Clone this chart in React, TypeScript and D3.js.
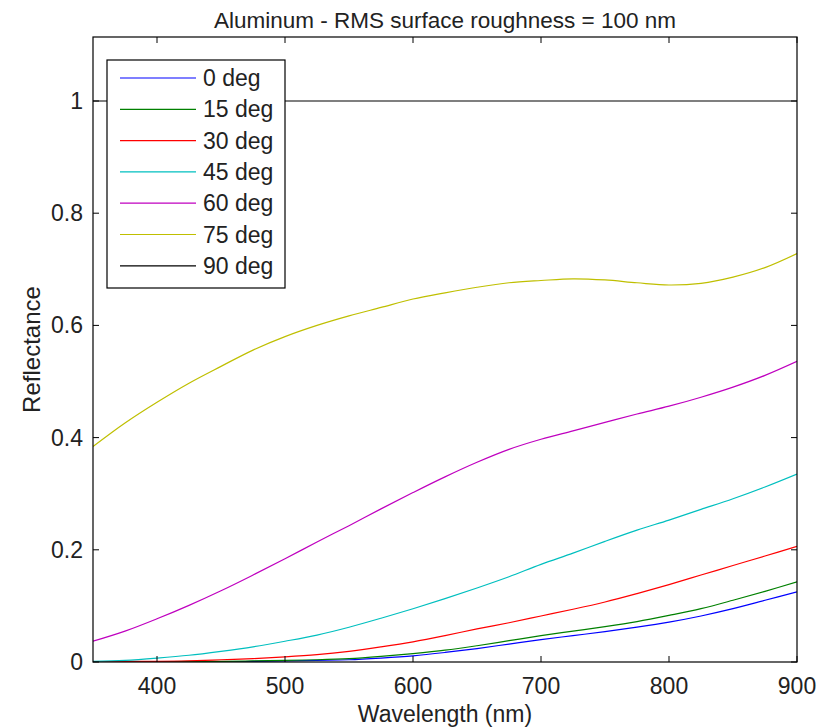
import React from "react";
import * as d3 from "d3";

const wavelengths = [350, 375, 400, 425, 450, 475, 500, 525, 550, 575, 600, 625, 650, 675, 700, 725, 750, 775, 800, 825, 850, 875, 900];

const r0 = [0, 0, 0, 0, 0, 0.001, 0.002, 0.003, 0.004, 0.007, 0.011, 0.017, 0.024, 0.032, 0.04, 0.047, 0.054, 0.062, 0.071, 0.082, 0.095, 0.11, 0.125];
const r15 = [0, 0, 0, 0.001, 0.001, 0.002, 0.003, 0.004, 0.006, 0.01, 0.015, 0.021, 0.029, 0.038, 0.047, 0.055, 0.063, 0.072, 0.083, 0.095, 0.11, 0.126, 0.143];
const r30 = [0, 0.001, 0.001, 0.002, 0.004, 0.006, 0.009, 0.013, 0.019, 0.027, 0.036, 0.047, 0.059, 0.07, 0.082, 0.094, 0.107, 0.122, 0.138, 0.155, 0.172, 0.189, 0.206];
const r45 = [0.001, 0.003, 0.007, 0.012, 0.019, 0.027, 0.037, 0.048, 0.062, 0.078, 0.095, 0.113, 0.132, 0.152, 0.174, 0.194, 0.215, 0.235, 0.253, 0.272, 0.291, 0.312, 0.335];
const r60 = [0.037, 0.055, 0.077, 0.101, 0.127, 0.155, 0.184, 0.214, 0.243, 0.273, 0.302, 0.33, 0.356, 0.379, 0.397, 0.412, 0.427, 0.442, 0.456, 0.472, 0.49, 0.511, 0.536];
const r75 = [0.384, 0.426, 0.463, 0.497, 0.527, 0.556, 0.58, 0.6, 0.617, 0.632, 0.647, 0.658, 0.668, 0.676, 0.68, 0.683, 0.681, 0.676, 0.672, 0.675, 0.686, 0.703, 0.728];
const r90 = [1, 1, 1, 1, 1, 1, 1, 1, 1, 1, 1, 1, 1, 1, 1, 1, 1, 1, 1, 1, 1, 1, 1];

const seriesLabels = ["0 deg", "15 deg", "30 deg", "45 deg", "60 deg", "75 deg", "90 deg"];
const seriesValues = [r0, r15, r30, r45, r60, r75, r90];
const seriesColors = ["#0000ff", "#008000", "#ff0000", "#00bfbf", "#bf00bf", "#bfbf00", "#000000"];

const xTicks = [400, 500, 600, 700, 800, 900];
const yTicks = [0, 0.2, 0.4, 0.6, 0.8, 1];
const yTickLabels = ["0", "0.2", "0.4", "0.6", "0.8", "1"];

const W = 825;
const H = 727;
const left = 93;
const right = 797;
const top = 37;
const bottom = 662;
const FONT = "'Liberation Sans', Arial, Helvetica, sans-serif";
const FS = 23;

export default function App() {
  const x = d3.scaleLinear().domain([350, 900]).range([left, right]);
  const y = d3.scaleLinear().domain([0, 1]).range([bottom, 101]);

  const line = d3
    .line<number>()
    .x((_, i) => x(wavelengths[i]))
    .y((d) => y(d))
    .curve(d3.curveCatmullRom.alpha(0.5));

  const tick = 6;
  const legendX = 107;
  const legendY = 60;
  const legendW = 178;
  const legendH = 228;
  const rowY = (i: number) => 78 + i * 31.3;

  return (
    <svg
      width={W}
      height={H}
      style={{ position: "absolute", left: 0, top: 0, background: "#fff" }}
      fontFamily={FONT}
    >
      <rect x={0} y={0} width={W} height={H} fill="#fff" />
      <defs>
        <clipPath id="plotClip">
          <rect x={left} y={top} width={right - left} height={bottom - top} />
        </clipPath>
      </defs>

      {/* series */}
      <g clipPath="url(#plotClip)">
        {seriesValues.map((vals, i) => (
          <path key={i} d={line(vals) || ""} fill="none" stroke={seriesColors[i]} strokeWidth={1.2} />
        ))}
      </g>

      {/* axes box */}
      <rect x={left} y={top} width={right - left} height={bottom - top} fill="none" stroke="#000" strokeWidth={1.2} />

      {/* x ticks */}
      {xTicks.map((t) => (
        <g key={"x" + t}>
          <line x1={x(t)} x2={x(t)} y1={bottom} y2={bottom - tick} stroke="#000" />
          <line x1={x(t)} x2={x(t)} y1={top} y2={top + tick} stroke="#000" />
          <text x={x(t)} y={bottom + 32} textAnchor="middle" fontSize={FS} fill="#222">
            {t}
          </text>
        </g>
      ))}

      {/* y ticks */}
      {yTicks.map((t, i) => (
        <g key={"y" + t}>
          <line x1={left} x2={left + tick} y1={y(t)} y2={y(t)} stroke="#000" />
          <line x1={right} x2={right - tick} y1={y(t)} y2={y(t)} stroke="#000" />
          <text x={left - 10} y={y(t) + 8} textAnchor="end" fontSize={FS} fill="#222">
            {yTickLabels[i]}
          </text>
        </g>
      ))}

      {/* title and axis labels */}
      <text x={445} y={28} textAnchor="middle" fontSize={22.5} fill="#222">
        Aluminum - RMS surface roughness = 100 nm
      </text>
      <text x={445} y={722} textAnchor="middle" fontSize={FS} fill="#222">
        Wavelength (nm)
      </text>
      <text
        transform={`translate(40, ${(top + bottom) / 2}) rotate(-90)`}
        textAnchor="middle"
        fontSize={FS + 1}
        fill="#222"
      >
        Reflectance
      </text>

      {/* legend */}
      <rect x={legendX} y={legendY} width={legendW} height={legendH} fill="#fff" stroke="#000" strokeWidth={1.2} />
      {seriesLabels.map((lab, i) => (
        <g key={lab}>
          <line x1={120} x2={196} y1={rowY(i)} y2={rowY(i)} stroke={seriesColors[i]} strokeWidth={1.2} />
          <text x={203} y={rowY(i) + 8} fontSize={FS} fill="#222">
            {lab}
          </text>
        </g>
      ))}
    </svg>
  );
}
